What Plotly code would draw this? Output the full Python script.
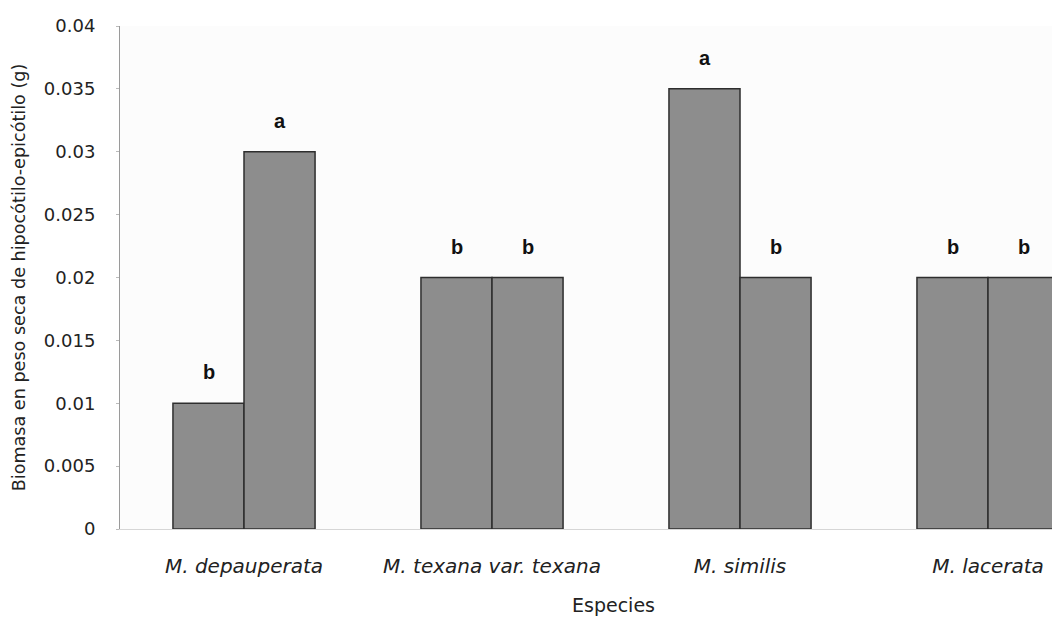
import plotly.graph_objects as go

categories = ["M. depauperata", "M. texana var. texana", "M. similis", "M. lacerata"]
series1 = [0.01, 0.02, 0.035, 0.02]
series2 = [0.03, 0.02, 0.02, 0.02]
letters1 = ["b", "b", "a", "b"]
letters2 = ["a", "b", "b", "b"]
y_ticks = [0, 0.005, 0.01, 0.015, 0.02, 0.025, 0.03, 0.035, 0.04]
y_tick_labels = ["0", "0.005", "0.01", "0.015", "0.02", "0.025", "0.03", "0.035", "0.04"]

bar_color = "#8d8d8d"
edge = "#2e2e2e"

fig = go.Figure()
for vals in (series1, series2):
    fig.add_trace(go.Bar(x=categories, y=vals, marker=dict(color=bar_color, line=dict(color=edge, width=1.5)),
                         showlegend=False))

bar_px = 71
for letters, vals, shift in ((letters1, series1, -bar_px / 2), (letters2, series2, bar_px / 2)):
    for c, v, t in zip(categories, vals, letters):
        fig.add_annotation(x=c, y=v, text="<b>" + t + "</b>", showarrow=False, xshift=shift, yshift=31,
                           font=dict(family="Liberation Sans", size=20, color="#111"),
                           yanchor="middle")

fig.add_annotation(x=0.529, y=0, xref="paper", yref="paper", yshift=-76, text="Especies", showarrow=False,
                   font=dict(family="DejaVu Sans", size=19, color="#222"), yanchor="middle")

fig.update_layout(
    width=1052, height=617,
    margin=dict(l=120, r=0, t=26, b=88),
    paper_bgcolor="white", plot_bgcolor="#fcfcfc",
    bargap=0.427, bargroupgap=0,
    font=dict(family="DejaVu Sans", color="#222"),
)
fig.update_xaxes(range=[-0.5, 3.258], showgrid=False, ticks="", ticklabelstandoff=19,
                 tickfont=dict(family="DejaVu Sans", size=20, style="italic", color="#222"),
                 showline=True, linecolor="#d6d6d6", linewidth=1)
fig.update_yaxes(range=[0, 0.04], tickvals=y_ticks, ticktext=y_tick_labels, showgrid=False, zeroline=False,
                 showline=True, linecolor="#9a9a9a", linewidth=1, ticks="outside", ticklen=3, tickcolor="#bbb",
                 ticklabelstandoff=17, tickfont=dict(family="DejaVu Sans", size=18, color="#222"),
                 title=dict(text="Biomasa en peso seca de hipocótilo-epicótilo (g)", standoff=13,
                            font=dict(family="DejaVu Sans", size=17.6, color="#222")))

fig.write_html("out.html", config={"displayModeBar": False},
               post_script="document.body.style.margin='0';document.body.style.overflow='hidden';")
